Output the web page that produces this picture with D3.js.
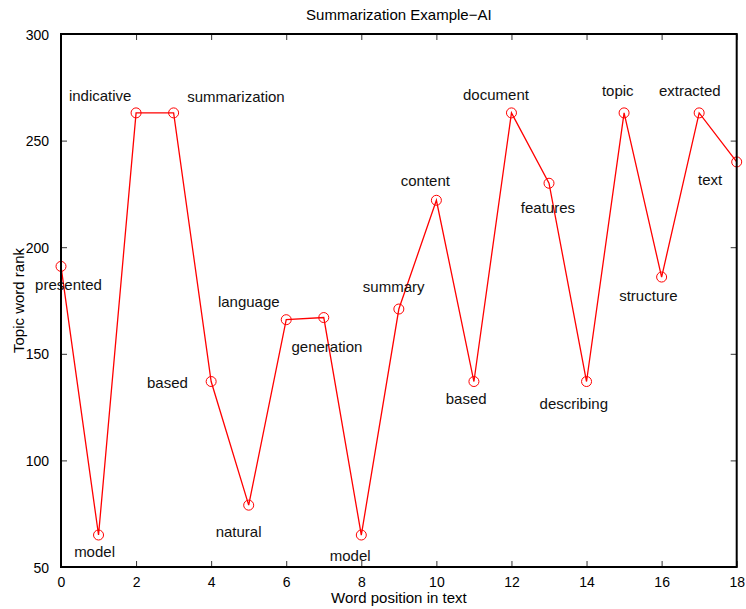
<!DOCTYPE html>
<html>
<head>
<meta charset="utf-8">
<script src="https://cdn.jsdelivr.net/npm/d3@7"></script>
<style>
  html, body { margin: 0; padding: 0; background: #fff; }
  svg { display: block; font-family: "Liberation Sans", Arial, Helvetica, sans-serif; }
</style>
</head>
<body>
<div id="chart"></div>
<script>
// Word position in the text and its topic rank
const positions = d3.range(0, 19);
const ranks = [191, 65, 263, 263, 137, 79, 166, 167, 65, 171, 222, 137, 263, 230, 137, 263, 186, 263, 240];
const words = ["presented", "model", "indicative", "summarization", "based", "natural", "language",
  "generation", "model", "summary", "content", "based", "document", "features", "describing",
  "topic", "structure", "extracted", "text"];

// Text anchors for each word, in data units (left edge, vertical middle)
const labelX = [-0.69, 0.35, 0.21, 3.36, 2.29, 4.12, 4.18, 6.14, 7.16, 8.04, 9.05, 10.25, 10.71, 12.25, 12.75, 14.41, 14.87, 15.93, 16.97];
const labelY = [182.3, 57.2, 271.1, 270.5, 136.3, 66.3, 174.4, 153.3, 55.3, 181.5, 231.1, 128.8, 271.7, 218.5, 126.5, 273.3, 177.1, 273.3, 231.5];

const xTicks = d3.range(0, 19, 2);
const yTicks = d3.range(50, 301, 50);

const W = 746, H = 609;
const margin = { left: 61, right: 9.3, top: 34, bottom: 42 };
const iw = W - margin.left - margin.right;
const ih = H - margin.top - margin.bottom;

const x = d3.scaleLinear().domain([0, 18]).range([0, iw]);
const y = d3.scaleLinear().domain([50, 300]).range([ih, 0]);

const svg = d3.select("#chart").append("svg").attr("width", W).attr("height", H);
const g = svg.append("g").attr("transform", `translate(${margin.left},${margin.top})`);

// Axes: ticks point inward on all four sides
const tickLen = 6;
const axB = g.append("g").attr("transform", `translate(0,${ih})`)
  .call(d3.axisBottom(x).tickValues(xTicks).tickSizeInner(-tickLen).tickSizeOuter(0).tickPadding(10));
const axT = g.append("g")
  .call(d3.axisTop(x).tickValues(xTicks).tickSizeInner(-tickLen).tickSizeOuter(0).tickFormat(""));
const axL = g.append("g")
  .call(d3.axisLeft(y).tickValues(yTicks).tickSizeInner(-tickLen).tickSizeOuter(0).tickPadding(12));
const axR = g.append("g").attr("transform", `translate(${iw},0)`)
  .call(d3.axisRight(y).tickValues(yTicks).tickSizeInner(-tickLen).tickSizeOuter(0).tickFormat(""));

[axB, axT, axL, axR].forEach(a => {
  a.select(".domain").remove();
  a.selectAll(".tick line").attr("stroke", "#333").attr("stroke-width", 1);
  a.selectAll("text").attr("font-size", 14).attr("fill", "#000").attr("font-family", null);
});
axB.selectAll("text").attr("dy", "0.71em");
axL.selectAll("text").attr("dy", "0.36em");

// Red polyline with open circle markers
const line = d3.line().x((d, i) => x(positions[i])).y(d => y(d));
g.append("path")
  .datum(ranks)
  .attr("d", line)
  .attr("fill", "none")
  .attr("stroke", "#ff0000")
  .attr("stroke-width", 1.3);

g.selectAll("circle.pt")
  .data(ranks)
  .join("circle")
  .attr("class", "pt")
  .attr("cx", (d, i) => x(positions[i]))
  .attr("cy", d => y(d))
  .attr("r", 5)
  .attr("fill", "none")
  .attr("stroke", "#ff0000")
  .attr("stroke-width", 1);

// Word labels
g.selectAll("text.word")
  .data(words)
  .join("text")
  .attr("class", "word")
  .attr("x", (d, i) => x(labelX[i]))
  .attr("y", (d, i) => y(labelY[i]))
  .attr("dy", "0.35em")
  .attr("font-size", 15)
  .attr("fill", "#111")
  .text(d => d);

// Axes box
g.append("rect")
  .attr("x", 0).attr("y", 0).attr("width", iw).attr("height", ih)
  .attr("fill", "none").attr("stroke", "#000").attr("stroke-width", 2);

// Title and axis labels
svg.append("text")
  .attr("x", margin.left + iw / 2).attr("y", 20)
  .attr("text-anchor", "middle").attr("font-size", 15).attr("fill", "#000")
  .text("Summarization Example\u2212AI");

svg.append("text")
  .attr("x", margin.left + iw / 2).attr("y", 603)
  .attr("text-anchor", "middle").attr("font-size", 15).attr("fill", "#000")
  .text("Word position in text");

svg.append("text")
  .attr("transform", `translate(24,${margin.top + ih / 2}) rotate(-90)`)
  .attr("text-anchor", "middle").attr("font-size", 15).attr("fill", "#000")
  .text("Topic word rank");
</script>
</body>
</html>
